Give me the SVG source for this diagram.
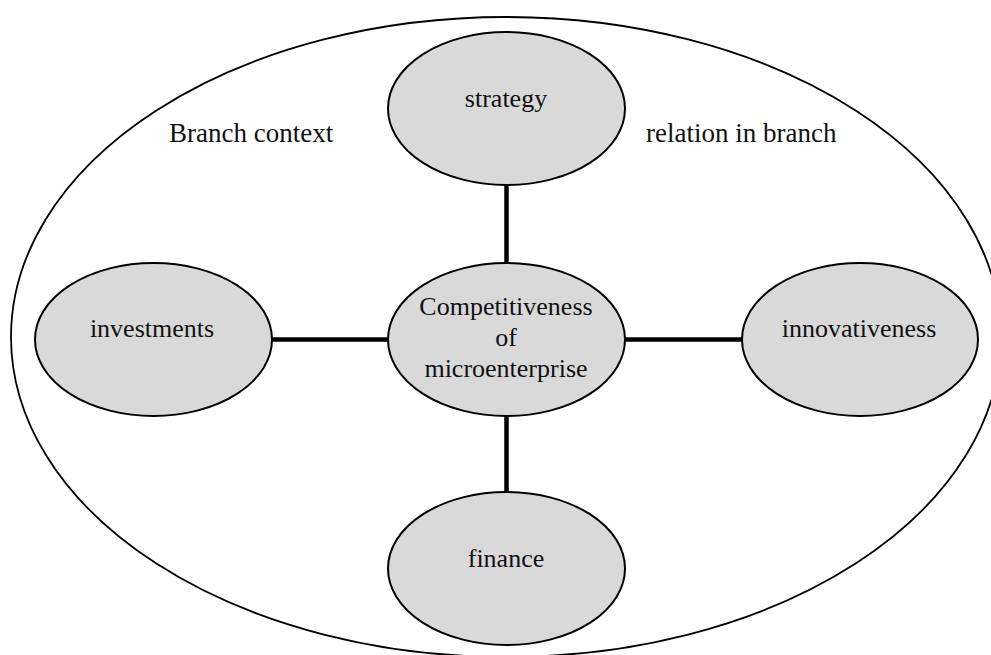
<svg xmlns="http://www.w3.org/2000/svg" width="991" height="655" viewBox="0 0 991 655">
<style>
.node{fill:#d9d9d9;stroke:#000;stroke-width:2}
.t{font-family:"Liberation Serif","Times New Roman",serif;font-size:26px;fill:#111;text-anchor:middle}
.lab{font-family:"Liberation Serif","Times New Roman",serif;font-size:27px;fill:#111}
.c{stroke:#000;stroke-width:4.5;fill:none}
</style>
<rect width="991" height="655" fill="#fff"/>
<g id="context">
<ellipse cx="506" cy="337" rx="495" ry="320" fill="none" stroke="#000" stroke-width="1.8"/>
<text class="lab" x="169" y="142">Branch context</text>
<text class="lab" x="646" y="142">relation in branch</text>
</g>
<g id="connectors">
<line class="c" x1="506.5" y1="185" x2="506.5" y2="263"/>
<line class="c" x1="506.5" y1="416" x2="506.5" y2="492"/>
<line class="c" x1="272" y1="339.5" x2="388" y2="339.5"/>
<line class="c" x1="625" y1="339.5" x2="742" y2="339.5"/>
</g>
<g id="strategy">
<ellipse class="node" cx="506.5" cy="108.5" rx="118.5" ry="76.5"/>
<text class="t" x="506" y="107">strategy</text>
</g>
<g id="competitiveness">
<ellipse class="node" cx="506.5" cy="339.5" rx="118.5" ry="76.5"/>
<text class="t" x="506" y="315">Competitiveness</text>
<text class="t" x="506" y="346">of</text>
<text class="t" x="506" y="377">microenterprise</text>
</g>
<g id="investments">
<ellipse class="node" cx="153.5" cy="339.5" rx="118.5" ry="76.5"/>
<text class="t" x="152" y="337">investments</text>
</g>
<g id="innovativeness">
<ellipse class="node" cx="860" cy="339.5" rx="118" ry="76.5"/>
<text class="t" x="859" y="337">innovativeness</text>
</g>
<g id="finance">
<ellipse class="node" cx="506.5" cy="568.5" rx="118.5" ry="76.5"/>
<text class="t" x="506" y="567">finance</text>
</g>
</svg>
